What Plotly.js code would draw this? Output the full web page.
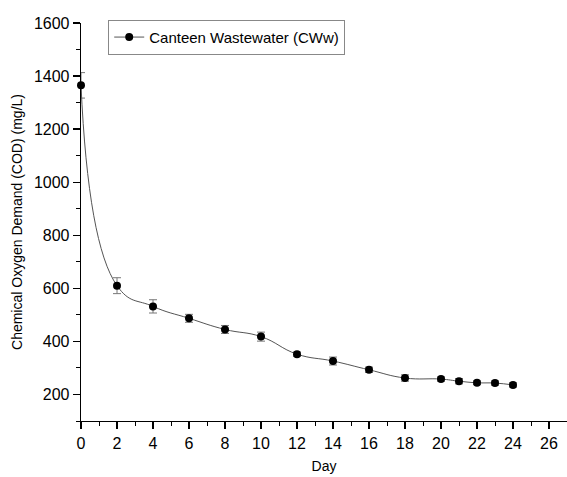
<!DOCTYPE html>
<html><head><meta charset="utf-8">
<script src="https://cdn.plot.ly/plotly-3.0.1.min.js"></script>
<style>body{margin:0;padding:0;background:#fff}#chart{width:567px;height:477px}</style>
</head><body><div id="chart"></div>
<script>
var days = [0, 2, 4, 6, 8, 10, 12, 14, 16, 18, 20, 21, 22, 23, 24];
var cod = [1365, 610, 532, 487, 445, 418, 352, 326, 293, 262, 258, 250, 244, 243, 236];
var codErr = [48, 30, 25, 15, 15, 17, 8, 15, 10, 12, 8, 10, 7, 8, 8];
var seriesName = 'Canteen Wastewater (CWw)';
var xTicks = [0, 2, 4, 6, 8, 10, 12, 14, 16, 18, 20, 22, 24, 26];
var yTicks = [200, 400, 600, 800, 1000, 1200, 1400, 1600];

var trace = {
  x: days, y: cod, name: seriesName, type: 'scatter', mode: 'lines+markers',
  line: {color: '#555555', width: 1, shape: 'spline', smoothing: 1.3},
  marker: {color: '#000000', size: 8, symbol: 'circle'},
  error_y: {type: 'data', array: codErr, visible: true, color: '#777777', thickness: 1, width: 4},
  cliponaxis: false
};
var fontFam = '"Liberation Sans", Arial, sans-serif';
var layout = {
  width: 567, height: 477,
  margin: {l: 81, r: 0, t: 23, b: 56},
  paper_bgcolor: '#ffffff', plot_bgcolor: '#ffffff',
  font: {family: fontFam, color: '#000000'},
  showlegend: true,
  legend: {x: 0.056, y: 1.008, xanchor: 'left', yanchor: 'top',
    bordercolor: '#888888', borderwidth: 1, bgcolor: '#ffffff',
    font: {size: 15, family: fontFam}, itemwidth: 30, tracegroupgap: 0},
  xaxis: {
    range: [0, 27], tickvals: xTicks, ticktext: xTicks.map(String),
    showgrid: false, zeroline: false, showline: true, linecolor: '#000', linewidth: 1.3,
    ticks: 'outside', ticklen: 7, tickcolor: '#000', tickwidth: 1.3,
    tickfont: {size: 16},
    minor: {dtick: 1, tick0: 1, ticks: 'outside', ticklen: 4, tickcolor: '#000', tickwidth: 1},
    title: {text: 'Day', font: {size: 14}, standoff: 10}
  },
  yaxis: {
    range: [100, 1600], tickvals: yTicks, ticktext: yTicks.map(String),
    showgrid: false, zeroline: false, showline: true, linecolor: '#000', linewidth: 1.3,
    ticks: 'outside', ticklen: 7, tickcolor: '#000', tickwidth: 1.3,
    tickfont: {size: 16},
    minor: {dtick: 100, tick0: 100, ticks: 'outside', ticklen: 4, tickcolor: '#000', tickwidth: 1},
    title: {text: 'Chemical Oxygen Demand (COD) (mg/L)', font: {size: 14}, standoff: 8}
  }
};
Plotly.newPlot('chart', [trace], layout, {displayModeBar: false, staticPlot: true});
</script></body></html>
